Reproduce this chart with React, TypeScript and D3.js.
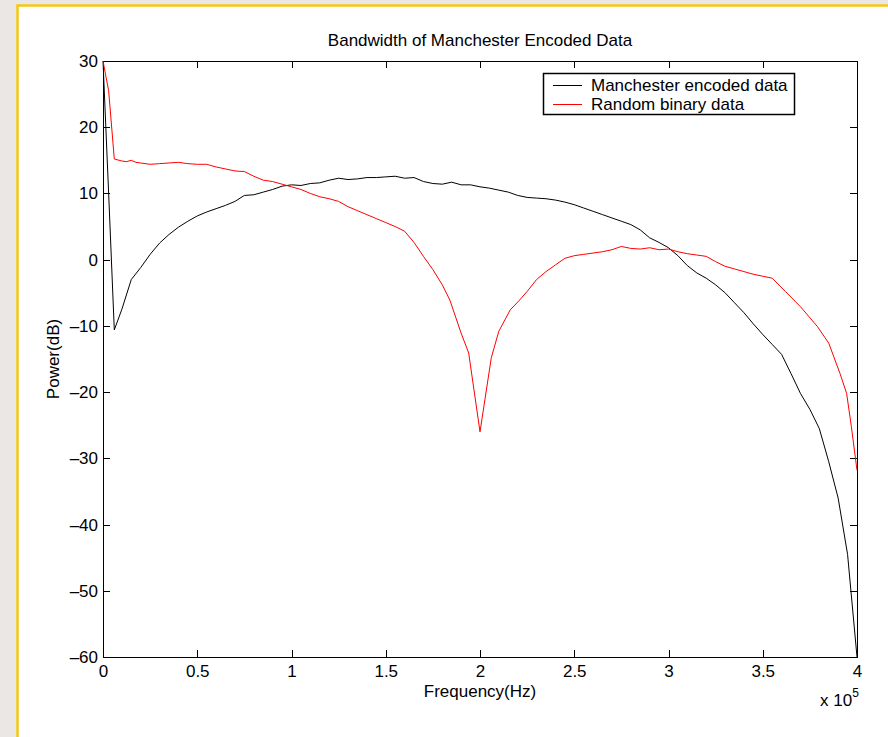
import { useEffect, useRef } from 'react';
import * as d3 from 'd3';

// frequency in units of 1e5 Hz (axis shows "x 10^5")
const manchesterFreq = [
  0, 0.03, 0.06, 0.1, 0.15, 0.2, 0.25, 0.3, 0.35, 0.4, 0.45, 0.5, 0.55, 0.6, 0.65, 0.7, 0.75, 0.8,
  0.85, 0.9, 0.95, 1.0, 1.05, 1.1, 1.15, 1.2, 1.25, 1.3, 1.35, 1.4, 1.45, 1.5, 1.55, 1.6, 1.65,
  1.7, 1.75, 1.8, 1.85, 1.9, 1.95, 2.0, 2.05, 2.1, 2.15, 2.2, 2.25, 2.3, 2.35, 2.4, 2.45, 2.5,
  2.55, 2.6, 2.65, 2.7, 2.75, 2.8, 2.85, 2.9, 2.95, 3.0, 3.05, 3.1, 3.15, 3.2, 3.25, 3.3, 3.35,
  3.4, 3.45, 3.5, 3.55, 3.6, 3.65, 3.7, 3.75, 3.8, 3.85, 3.9, 3.95, 4.0,
];
const manchesterPower = [
  30, 10, -10.6, -7.5, -3.0, -1.2, 0.8, 2.5, 3.8, 4.9, 5.8, 6.6, 7.2, 7.7, 8.2, 8.8, 9.7, 9.8,
  10.2, 10.6, 11.1, 11.3, 11.2, 11.5, 11.6, 12.0, 12.3, 12.1, 12.2, 12.4, 12.4, 12.5, 12.6, 12.3, 12.4,
  11.8, 11.5, 11.4, 11.7, 11.3, 11.3, 11.0, 10.8, 10.5, 10.2, 9.7, 9.4, 9.3, 9.2, 9.0, 8.7, 8.3,
  7.8, 7.3, 6.8, 6.3, 5.8, 5.3, 4.5, 3.3, 2.6, 1.8, 0.6, -0.9, -2.0, -2.8, -3.8, -5.0, -6.5,
  -8.0, -9.7, -11.3, -12.8, -14.3, -17.2, -20.2, -22.6, -25.5, -30.5, -36.0, -44.5, -60,
];

const binaryFreq = [
  0, 0.03, 0.06, 0.1, 0.125, 0.15, 0.175, 0.2, 0.25, 0.3, 0.35, 0.4, 0.45, 0.5, 0.55, 0.6, 0.65,
  0.7, 0.75, 0.8, 0.85, 0.9, 0.95, 1.0, 1.05, 1.1, 1.15, 1.2, 1.25, 1.3, 1.35, 1.4, 1.45, 1.5,
  1.55, 1.6, 1.65, 1.7, 1.75, 1.8, 1.84, 1.9, 1.94, 2.0, 2.06, 2.1, 2.16, 2.21, 2.25, 2.3, 2.35,
  2.4, 2.45, 2.5, 2.55, 2.6, 2.65, 2.7, 2.75, 2.8, 2.85, 2.9, 2.95, 3.0, 3.05, 3.1, 3.15, 3.2,
  3.25, 3.3, 3.35, 3.4, 3.45, 3.5, 3.55, 3.62, 3.7, 3.79, 3.85, 3.91, 3.945, 3.97, 4.0,
];
const binaryPower = [
  30, 25.5, 15.2, 14.9, 14.8, 15.0, 14.7, 14.6, 14.4, 14.5, 14.6, 14.7, 14.5, 14.4, 14.4, 14.0, 13.7,
  13.4, 13.3, 12.6, 12.0, 11.8, 11.4, 11.0, 10.6, 10.0, 9.5, 9.2, 8.8, 8.0, 7.4, 6.8, 6.2, 5.6,
  5.0, 4.3, 2.6, 0.5, -1.5, -3.8, -6.1, -11.1, -14.1, -26, -14.8, -10.8, -7.6, -6.1, -4.8, -3.0, -1.8,
  -0.8, 0.2, 0.6, 0.8, 1.0, 1.2, 1.5, 2.0, 1.7, 1.6, 1.8, 1.5, 1.6, 1.2, 0.9, 0.7, 0.5,
  -0.3, -1.0, -1.4, -1.8, -2.2, -2.5, -2.8, -4.8, -7.1, -10.1, -12.6, -17.2, -20.2, -25.2, -31.8,
];

const xTicks = [0, 0.5, 1, 1.5, 2, 2.5, 3, 3.5, 4];
const yTicks = [30, 20, 10, 0, -10, -20, -30, -40, -50, -60];

const seriesNames = ['Manchester encoded data', 'Random binary data'];
const seriesColors = ['#000000', '#ff0000'];

const FONT = '"Liberation Sans", Arial, Helvetica, sans-serif';
const FS = 17;

function App() {
  const svgRef = useRef<SVGSVGElement>(null);

  useEffect(() => {
    const width = 888;
    const height = 737;
    const left = 103, right = 857, top = 61, bottom = 657;

    const svg = d3.select(svgRef.current)
      .attr('width', width)
      .attr('height', height);
    svg.selectAll('*').remove();

    // page background and yellow frame
    svg.append('rect')
      .attr('width', width).attr('height', height)
      .attr('fill', '#ebe7e4');
    svg.append('rect')
      .attr('x', 18).attr('y', 6)
      .attr('width', width - 18).attr('height', height - 6)
      .attr('fill', '#ffffff');
    svg.append('path')
      .attr('d', `M17.5,${height} V5.5 H${width}`)
      .attr('fill', 'none')
      .attr('stroke', '#f5c80f')
      .attr('stroke-width', 2.5);

    const x = d3.scaleLinear().domain([0, 4]).range([left, right]);
    const y = d3.scaleLinear().domain([-60, 30]).range([bottom, top]);

    const styleAxis = (g: any) => {
      g.attr('font-family', FONT).attr('font-size', FS);
      g.selectAll('path, line').attr('stroke', '#000').attr('shape-rendering', 'crispEdges');
      g.selectAll('text').attr('fill', '#000');
    };

    svg.append('g')
      .attr('transform', `translate(0,${bottom})`)
      .call(d3.axisBottom(x).tickValues(xTicks).tickSizeInner(-7).tickSizeOuter(0)
        .tickPadding(8).tickFormat((d: any) => String(d)))
      .call(styleAxis);
    svg.append('g')
      .attr('transform', `translate(0,${top})`)
      .call(d3.axisTop(x).tickValues(xTicks).tickSizeInner(-7).tickSizeOuter(0).tickFormat(() => ''))
      .call(styleAxis);
    svg.append('g')
      .attr('transform', `translate(${left},0)`)
      .call(d3.axisLeft(y).tickValues(yTicks).tickSizeInner(-7).tickSizeOuter(0)
        .tickPadding(5).tickFormat((d: any) => String(d).replace('-', '\u2013')))
      .call(styleAxis);
    svg.append('g')
      .attr('transform', `translate(${right},0)`)
      .call(d3.axisRight(y).tickValues(yTicks).tickSizeInner(-7).tickSizeOuter(0).tickFormat(() => ''))
      .call(styleAxis);

    // curves
    const line = d3.line<[number, number]>()
      .x(d => x(d[0]))
      .y(d => y(d[1]));

    const manchester = manchesterFreq.map((f, i) => [f, manchesterPower[i]] as [number, number]);
    const binary = binaryFreq.map((f, i) => [f, binaryPower[i]] as [number, number]);

    svg.append('path')
      .datum(manchester)
      .attr('d', line)
      .attr('fill', 'none')
      .attr('stroke', seriesColors[0])
      .attr('stroke-width', 1);
    svg.append('path')
      .datum(binary)
      .attr('d', line)
      .attr('fill', 'none')
      .attr('stroke', seriesColors[1])
      .attr('stroke-width', 1);

    // titles
    svg.append('text')
      .attr('x', (left + right) / 2)
      .attr('y', 46)
      .attr('text-anchor', 'middle')
      .attr('font-family', FONT).attr('font-size', FS)
      .text('Bandwidth of Manchester Encoded Data');

    svg.append('text')
      .attr('x', (left + right) / 2)
      .attr('y', 697)
      .attr('text-anchor', 'middle')
      .attr('font-family', FONT).attr('font-size', FS)
      .text('Frequency(Hz)');

    svg.append('text')
      .attr('transform', `translate(59,${(top + bottom) / 2}) rotate(-90)`)
      .attr('text-anchor', 'middle')
      .attr('font-family', FONT).attr('font-size', FS)
      .text('Power(dB)');

    const expo = svg.append('text')
      .attr('x', 820)
      .attr('y', 706)
      .attr('font-family', FONT).attr('font-size', FS);
    expo.append('tspan').text('x 10');
    expo.append('tspan').attr('dy', -9).attr('font-size', 12).text('5');

    // legend
    const legend = svg.append('g');
    legend.append('rect')
      .attr('x', 543.5).attr('y', 73.5)
      .attr('width', 251).attr('height', 41)
      .attr('fill', '#fff')
      .attr('stroke', '#000')
      .attr('stroke-width', 1.5);
    seriesNames.forEach((name, i) => {
      const cy = 85.5 + i * 19;
      legend.append('line')
        .attr('x1', 553).attr('x2', 582)
        .attr('y1', cy).attr('y2', cy)
        .attr('stroke', seriesColors[i])
        .attr('stroke-width', 1);
      legend.append('text')
        .attr('x', 591)
        .attr('y', cy + 5.5)
        .attr('font-family', FONT).attr('font-size', FS)
        .text(name);
    });

    return () => {
      svg.selectAll('*').remove();
    };
  }, []);

  return (
    <div style={{ position: 'absolute', left: 0, top: 0 }}>
      <svg ref={svgRef} style={{ display: 'block' }}></svg>
    </div>
  );
}

export default App;
